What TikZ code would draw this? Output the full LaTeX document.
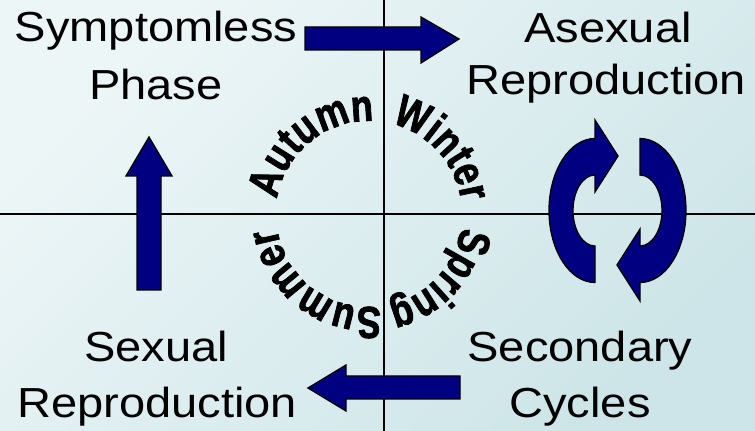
\documentclass[tikz,border=0pt]{standalone}
\usepackage{fontspec}
\setmainfont{Liberation Sans}
\newfontfamily\labelfont[FakeStretch=1.12]{Liberation Sans}
\newfontfamily\seasonfont[FakeStretch=0.8, FakeBold=1.6]{Liberation Sans}
\newcommand\seasonsty{\seasonfont\bfseries\fontsize{45}{50}\selectfont}
\usetikzlibrary{decorations.text}
\definecolor{navyc}{HTML}{000080}
\definecolor{bgA}{HTML}{EDF6F7}
\definecolor{bgB}{HTML}{CDE5E8}
\tikzset{
  lbl/.style={font=\labelfont\fontsize{42}{50}\selectfont, anchor=base, inner sep=0pt},
  axisline/.style={line width=1.4pt, black},
  blockarrow/.style={fill=navyc, draw=black, line width=1.3pt, line join=miter},
  seasonpath/.style={decorate, decoration={text along path, text align=center, text={|\seasonsty|#1}}}
}
\begin{document}
\begin{tikzpicture}[x=1pt,y=1pt]
\useasboundingbox (0,0) rectangle (755,431);
\shade[top color=bgA, bottom color=bgB, shading angle=45] (0,0) rectangle (755,431);
% axes
\coordinate (vtop) at (384,431);
\coordinate (vbot) at (384,0);
\coordinate (hleft) at (0,217);
\coordinate (hright) at (755,217);
\draw[axisline] (vtop) -- (vbot);
\draw[axisline] (hleft) -- (hright);
% labels
\node[lbl] (symp) at (156,389) {Symptomless};
\node[lbl] (phase) at (156,331) {Phase};
\node[lbl] (asex) at (608,388) {Asexual};
\node[lbl] (arep) at (606,336) {Reproduction};
\node[lbl] (sexual) at (156,69) {Sexual};
\node[lbl] (srep) at (157,13) {Reproduction};
\node[lbl] (second) at (580,69) {Secondary};
\node[lbl] (cycles) at (580,13) {Cycles};
% block arrows
\draw[blockarrow] (305,381) -- (305,404) -- (421,404) -- (421,414) -- (459,392) -- (421,368) -- (421,381) -- cycle;
\draw[blockarrow] (137,141) -- (161,141) -- (161,255) -- (172,255) -- (149,294) -- (126,255) -- (137,255) -- cycle;
\draw[blockarrow] (460,55) -- (346,55) -- (346,66) -- (308,43) -- (346,20) -- (346,32) -- (460,32) -- cycle;
% circular arrows
\draw[blockarrow] (595,292.5) -- (595,311) -- (618,275) -- (595,239) -- (595,256)
  arc[start angle=90, end angle=270, x radius=22pt, y radius=35.5pt] -- (595,148.5)
  arc[start angle=270, end angle=90, x radius=46pt, y radius=72pt] -- cycle;
\draw[blockarrow, rotate around={180:(617.5,220.5)}] (595,292.5) -- (595,311) -- (618,275) -- (595,239) -- (595,256)
  arc[start angle=90, end angle=270, x radius=22pt, y radius=35.5pt] -- (595,148.5)
  arc[start angle=270, end angle=90, x radius=46pt, y radius=72pt] -- cycle;
% seasons
\coordinate (sc) at (369,217);
\path[seasonpath={Autumn}] (sc) ++(174:93pt) arc[start angle=174, end angle=84, radius=93pt];
\path[seasonpath={Winter}] (sc) ++(87:93pt) arc[start angle=87, end angle=-3, radius=93pt];
\path[seasonpath={Spring}] (sc) ++(2:93pt) arc[start angle=2, end angle=-88, radius=93pt];
\path[seasonpath={Summer}] (sc) ++(-82:93pt) arc[start angle=-82, end angle=-172, radius=93pt];
\end{tikzpicture}
\end{document}
